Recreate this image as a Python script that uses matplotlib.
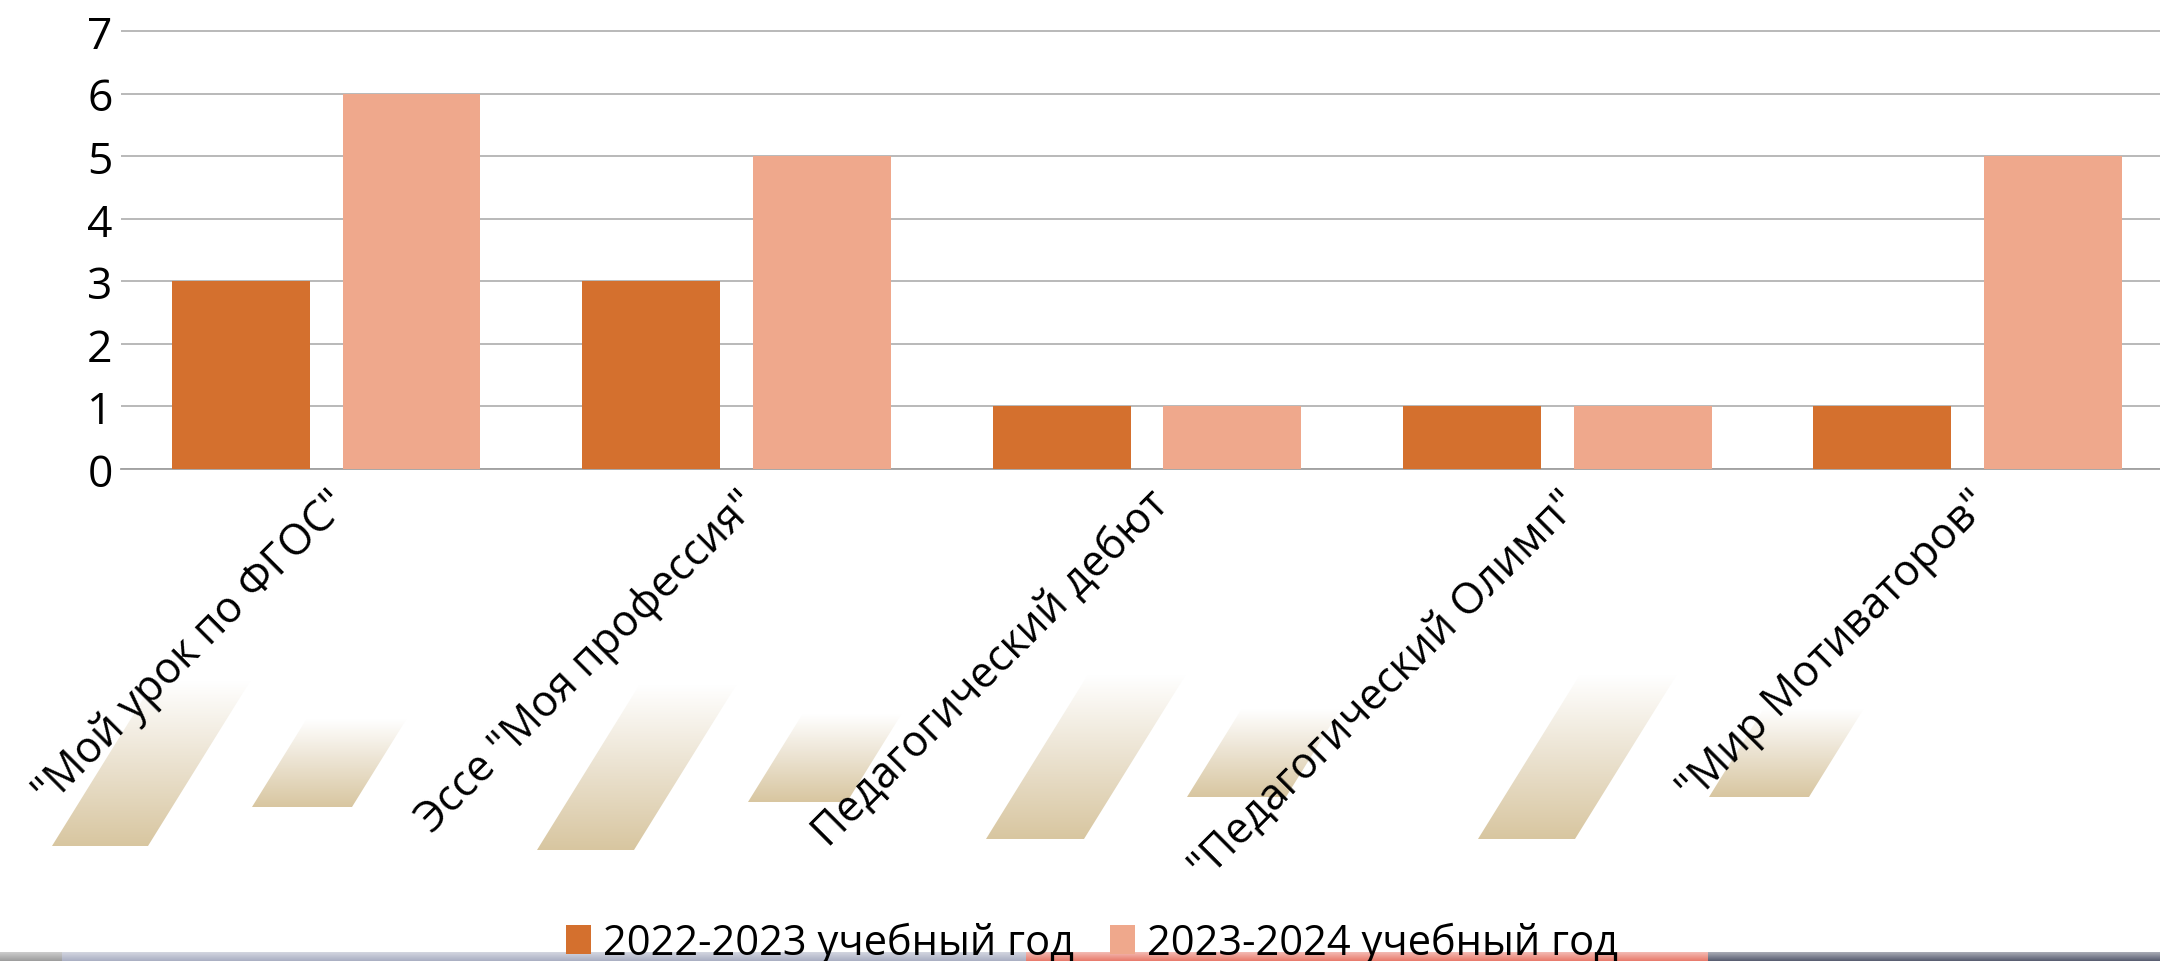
import numpy as np
import matplotlib
matplotlib.use('Agg')
import matplotlib.pyplot as plt
from matplotlib.colors import LinearSegmentedColormap, to_rgb
from matplotlib.patches import Polygon


# данные
categories = ['"Мой урок по ФГОС"', 'Эссе "Моя профессия"', 'Педагогический дебют',
              '"Педагогический Олимп"', '"Мир Мотиваторов"']
year_2022 = [3, 3, 1, 1, 1]
year_2023 = [6, 5, 1, 1, 5]
series_names = ['2022-2023 учебный год', '2023-2024 учебный год']
y_ticks = [0, 1, 2, 3, 4, 5, 6, 7]

# декоративные параллелограммы фона слайда (пиксели: левый низ x, низ y, ширина, высота)
deco = [(52, 847, 96, 165), (252, 808, 100, 88), (537, 851, 97, 165), (748, 803, 99, 88),
        (986, 840, 98, 164), (1187, 798, 99, 88), (1478, 840, 97, 164), (1709, 798, 100, 88)]
slant = 0.62

plt.rcParams['font.family'] = ['Open Sans', 'DejaVu Sans']

W, H = 2160, 962
fig = plt.figure(figsize=(W / 100, H / 100), dpi=100)
fig.patch.set_facecolor('white')

# фон в пикселях
bg = fig.add_axes([0, 0, 1, 1], zorder=-1)
bg.set_xlim(0, W)
bg.set_ylim(H, 0)
bg.axis('off')

tan = LinearSegmentedColormap.from_list('tan', ['#ffffff', '#ebe2d0', '#d8c6a0'])
grad = np.linspace(0, 1, 256).reshape(-1, 1)
for x0, yb, w, h in deco:
    pts = [(x0, yb), (x0 + w, yb), (x0 + w + slant * h, yb - h), (x0 + slant * h, yb - h)]
    poly = Polygon(pts, closed=True, facecolor='none', edgecolor='none')
    bg.add_patch(poly)
    im = bg.imshow(grad, cmap=tan, aspect='auto',
                   extent=(x0, x0 + w + slant * h, yb, yb - h), interpolation='bilinear')
    im.set_clip_path(poly)

# нижняя полоса слайда
strip = [(0, 62, '#9c9c9c'), (62, 1026, '#a9aec2'), (1026, 1708, '#e8796a'), (1708, W, '#565b6e')]
for xa, xb, c in strip:
    cm = LinearSegmentedColormap.from_list('s', [tuple(0.5 + 0.5 * v for v in to_rgb(c)), c])
    bg.imshow(grad, cmap=cm, aspect='auto', extent=(xa, xb, H, 953), interpolation='bilinear')
bg.set_xlim(0, W)
bg.set_ylim(H, 0)

# основной график
ax = fig.add_axes([0.056, 0.5114, 0.95, 0.4565])
ax.set_facecolor('none')
x = np.arange(len(categories))
w = 0.336
b1 = ax.bar(x - 0.208, year_2022, w, color='#d4702e', label=series_names[0], zorder=3)
b2 = ax.bar(x + 0.208, year_2023, w, color='#efa88c', label=series_names[1], zorder=3)

ax.set_xlim(-0.5, len(categories) - 0.5)
ax.set_ylim(0, 7.02)
ax.set_yticks(y_ticks)
ax.tick_params(axis='y', length=0, pad=6, labelsize=32)
ax.grid(axis='y', color='#a6a6a6', linewidth=1.1, zorder=0)
for s in ax.spines.values():
    s.set_visible(False)
ax.spines['bottom'].set_visible(True)
ax.spines['bottom'].set_color('#a0a0a0')
ax.spines['bottom'].set_linewidth(1.3)

ax.set_xticks(x)
ax.set_xticklabels(categories, rotation=45, ha='right', va='top',
                   rotation_mode='anchor', fontsize=31)
ax.tick_params(axis='x', length=0, pad=9)

leg = fig.legend(handles=[b1, b2], loc='center', bbox_to_anchor=(0.5056, 0.019), ncol=2,
                 frameon=False, fontsize=30, handlelength=0.6, handleheight=0.68,
                 handletextpad=0.3, columnspacing=0.85, borderpad=0)
leg.set_zorder(5)

fig.savefig('out.png', dpi=100)
